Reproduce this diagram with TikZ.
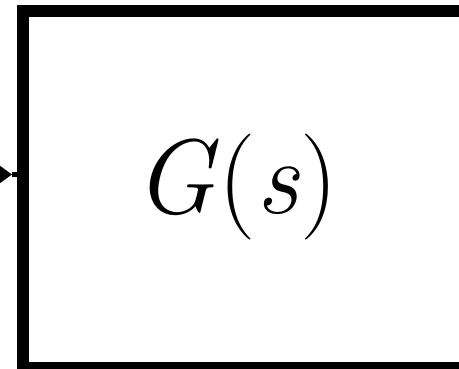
\documentclass[tikz,border=0pt]{standalone}
\usepackage{fontspec}
\usetikzlibrary{arrows.meta}
\tikzset{
  blockbox/.style={draw=black, line width=12pt, minimum width=447pt, minimum height=357pt, inner sep=0pt},
  sigline/.style={line width=5pt, black},
  tftext/.style={font=\fontsize{106}{120}\selectfont, inner sep=0pt, anchor=base}
}
\begin{document}
\begin{tikzpicture}[x=1pt,y=1pt]
\useasboundingbox (0,0) rectangle (459,369);
\clip (0,0) rectangle (459,369);
\fill[white] (0,0) rectangle (459,369);
\node[blockbox] (box) at (246.5,179.5) {};
\node[tftext] (tf) at (236,155) {\textit{G}(\textit{s})};
\coordinate (in) at (-2,194.5);
\coordinate (tip) at (12,194.5);
\draw[sigline, -{Triangle[length=13pt,width=18pt]}] (in) -- (tip);
\draw[sigline] (tip) -- (box.west |- tip);
\end{tikzpicture}
\end{document}
